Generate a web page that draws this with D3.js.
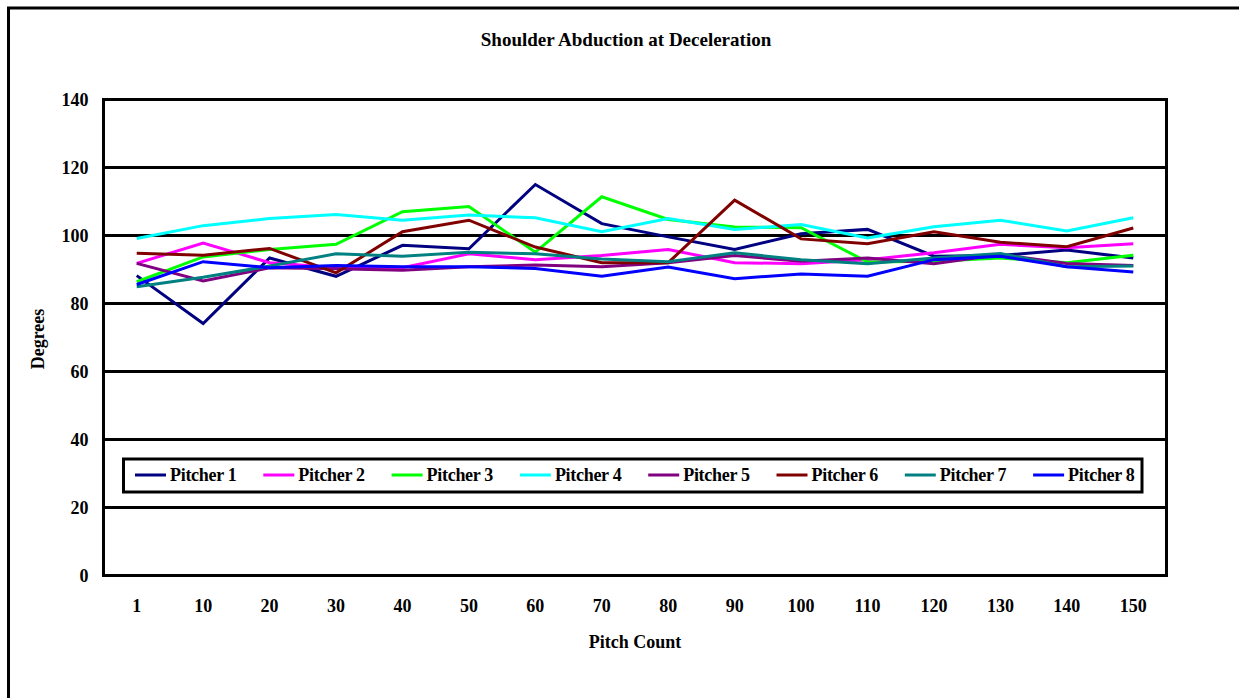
<!DOCTYPE html>
<html>
<head>
<meta charset="utf-8">
<script src="https://cdn.jsdelivr.net/npm/d3@7"></script>
<style>
  html, body { margin: 0; padding: 0; background: #fff; overflow: hidden; }
  svg { display: block; overflow: hidden; }
  svg text { font-family: "Liberation Serif", "Times New Roman", serif; font-weight: bold; fill: #000; }
</style>
</head>
<body>
<svg id="chart" width="1239" height="698"></svg>
<script>
// Pitch-count checkpoints along the x axis
const categories = ["1","10","20","30","40","50","60","70","80","90","100","110","120","130","140","150"];
const yTicks = [0, 20, 40, 60, 80, 100, 120, 140];

// Shoulder abduction (degrees) per pitcher at each checkpoint
const pitcher1 = [88.2, 74.1, 93.4, 88.0, 97.1, 96.1, 115.0, 103.5, 99.6, 95.9, 100.5, 101.8, 93.9, 94.1, 95.7, 93.4];
const pitcher2 = [91.8, 97.8, 92.0, 90.5, 90.5, 94.6, 92.9, 94.1, 95.9, 92.0, 91.7, 92.9, 94.9, 97.4, 96.4, 97.6];
const pitcher3 = [86.4, 93.7, 95.9, 97.4, 107.0, 108.5, 95.1, 111.4, 104.7, 102.5, 102.3, 92.2, 92.4, 93.4, 92.0, 94.2];
const pitcher4 = [99.1, 102.9, 105.0, 106.2, 104.5, 106.0, 105.2, 101.1, 105.0, 101.8, 103.2, 99.3, 102.6, 104.5, 101.3, 105.2];
const pitcher5 = [91.8, 86.6, 90.5, 90.2, 89.8, 90.8, 91.3, 90.8, 92.0, 94.1, 92.4, 93.4, 91.7, 94.4, 91.8, 91.2];
const pitcher6 = [94.8, 94.2, 96.2, 89.0, 101.1, 104.5, 96.6, 92.0, 92.0, 110.4, 99.0, 97.6, 101.1, 98.0, 96.7, 102.2];
const pitcher7 = [84.9, 87.7, 91.0, 94.6, 93.9, 95.1, 94.6, 93.1, 92.3, 94.9, 92.9, 91.7, 93.4, 94.7, 90.8, 91.0];
const pitcher8 = [85.6, 92.3, 90.5, 91.2, 90.8, 90.8, 90.3, 88.0, 90.7, 87.3, 88.7, 88.0, 92.9, 93.9, 90.8, 89.3];

const seriesNames = ["Pitcher 1","Pitcher 2","Pitcher 3","Pitcher 4","Pitcher 5","Pitcher 6","Pitcher 7","Pitcher 8"];
const seriesValues = [pitcher1, pitcher2, pitcher3, pitcher4, pitcher5, pitcher6, pitcher7, pitcher8];
const seriesColors = ["#000080","#FF00FF","#00FF00","#00FFFF","#800080","#800000","#008080","#0000FF"];

const svg = d3.select("#chart");

// Outer chart frame: only its left and top edges fall inside the canvas
svg.append("path")
  .attr("d", "M8.5,720 L8.5,8 L1300,8")
  .attr("fill", "none").attr("stroke", "#000").attr("stroke-width", 3);

const plot = { left: 103.5, top: 99.5, right: 1166.5, bottom: 575.5 };

const x = d3.scaleBand().domain(categories).range([plot.left, plot.right]);
const y = d3.scaleLinear().domain([0, 140]).range([plot.bottom, plot.top]);
const xc = c => x(c) + x.bandwidth() / 2;

// Horizontal gridlines
svg.append("g")
  .selectAll("line")
  .data(yTicks.filter(t => t > 0 && t < 140))
  .join("line")
  .attr("x1", plot.left).attr("x2", plot.right)
  .attr("y1", d => y(d)).attr("y2", d => y(d))
  .attr("stroke", "#000").attr("stroke-width", 3);

// Plot area border
svg.append("rect")
  .attr("x", plot.left).attr("y", plot.top)
  .attr("width", plot.right - plot.left).attr("height", plot.bottom - plot.top)
  .attr("fill", "none").attr("stroke", "#000").attr("stroke-width", 3);

// Y axis labels
const yAxis = svg.append("g")
  .attr("transform", `translate(${plot.left},0)`)
  .call(d3.axisLeft(y).tickValues(yTicks).tickSize(0).tickPadding(15));
yAxis.select(".domain").remove();
yAxis.selectAll("text").style("font-size", "18px").style("font-family", "'Liberation Serif', serif").style("font-weight", "bold");

// X axis labels
const xAxis = svg.append("g")
  .attr("transform", `translate(0,${plot.bottom})`)
  .call(d3.axisBottom(x).tickSize(0).tickPadding(24));
xAxis.select(".domain").remove();
xAxis.selectAll("text").style("font-size", "18px").style("font-family", "'Liberation Serif', serif").style("font-weight", "bold");

// Series lines
const line = d3.line().x((d, i) => xc(categories[i])).y(d => y(d));
svg.append("g")
  .selectAll("path")
  .data(seriesValues)
  .join("path")
  .attr("d", d => line(d))
  .attr("fill", "none")
  .attr("stroke", (d, i) => seriesColors[i])
  .attr("stroke-width", 3)
  .attr("stroke-linejoin", "miter");

// Legend
const legend = svg.append("g");
legend.append("rect")
  .attr("x", 123.5).attr("y", 459)
  .attr("width", 1018.5).attr("height", 33)
  .attr("fill", "#fff").attr("stroke", "#000").attr("stroke-width", 3);
const item = legend.selectAll("g.item")
  .data(seriesNames)
  .join("g")
  .attr("class", "item")
  .attr("transform", (d, i) => `translate(${135 + i * 128.3},475)`);
item.append("line")
  .attr("x1", 0).attr("x2", 31).attr("y1", 0).attr("y2", 0)
  .attr("stroke", (d, i) => seriesColors[i]).attr("stroke-width", 3);
item.append("text")
  .attr("x", 35).attr("y", 6)
  .style("font-size", "18px")
  .style("letter-spacing", "-0.3px")
  .text(d => d);

// Title and axis titles
svg.append("text")
  .attr("x", 626).attr("y", 46)
  .attr("text-anchor", "middle")
  .style("font-size", "19px")
  .text("Shoulder Abduction at Deceleration");

svg.append("text")
  .attr("x", 635).attr("y", 648)
  .attr("text-anchor", "middle")
  .style("font-size", "18px")
  .text("Pitch Count");

svg.append("text")
  .attr("transform", "translate(44,339) rotate(-90)")
  .attr("text-anchor", "middle")
  .style("font-size", "18px")
  .text("Degrees");
</script>
</body>
</html>
